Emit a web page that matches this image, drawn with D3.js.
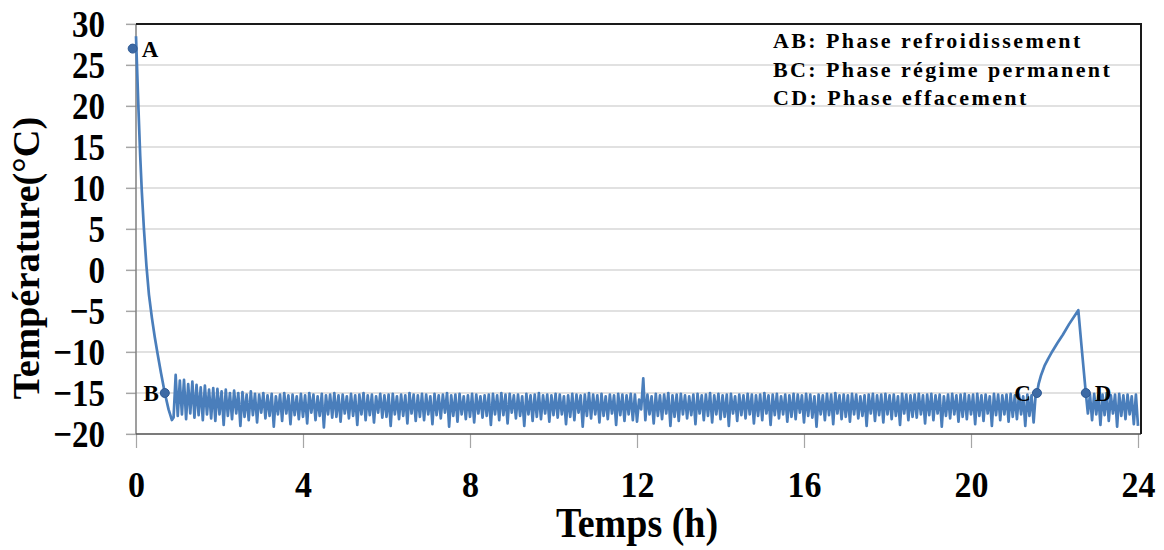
<!DOCTYPE html>
<html>
<head>
<meta charset="utf-8">
<script src="https://cdn.jsdelivr.net/npm/d3@7"></script>
<style>
body { margin: 0; background: #fff; }
svg text { font-family: "Liberation Serif", "Times New Roman", serif; font-weight: bold; fill: #000; }
.grid line { stroke: #c3c3c3; stroke-width: 1; }
.axis path { display: none; }
.axis line { stroke: #a6a6a6; stroke-width: 1.2; }
</style>
</head>
<body>
<svg id="chart" width="1164" height="550"></svg>
<script>
// ticks
var yTicks = [-20, -15, -10, -5, 0, 5, 10, 15, 20, 25, 30];
var xTicks = [0, 4, 8, 12, 16, 20, 24];

// cooling from A to B (h, °C)
var coolTime = [0, 0.03, 0.06, 0.1, 0.14, 0.19, 0.25, 0.31, 0.38, 0.45, 0.52, 0.6, 0.69, 0.78, 0.86];
var coolTemp = [28.5, 24, 19.5, 14, 9.5, 5, 0.5, -3, -5.8, -8.2, -10.3, -12.6, -15, -17, -18.3];

// regime permanent, logged every 0.05 h from 0.9 h (one row = one hour)
var regimeStart = 0.9, regimeStep = 0.05;
var regimeTemp = [
  -18.0,-12.8,-17.8,-13.5,-17.6,-13.4,-18.2,-13.9,-17.5,-13.6,-18.0,-14.0,-17.7,-14.3,-18.3,-14.1,-17.6,-14.6,-18.1,-14.4,
  -18.4,-14.5,-17.6,-14.8,-18.9,-14.6,-17.8,-15.0,-18.2,-14.7,-17.5,-15.0,-19.0,-14.9,-17.9,-15.2,-18.3,-14.8,-17.7,-15.1,
  -18.6,-15.2,-17.4,-15.0,-18.1,-15.3,-17.8,-15.1,-19.1,-15.4,-17.6,-15.2,-18.4,-15.0,-17.5,-15.3,-18.8,-15.2,-17.7,-15.4,
  -18.2,-15.1,-17.9,-15.3,-18.7,-15.0,-17.4,-15.2,-18.3,-15.4,-17.8,-15.1,-19.2,-15.3,-17.6,-15.2,-18.0,-15.0,-17.9,-15.3,
  -18.5,-15.2,-17.5,-15.4,-18.1,-15.1,-17.8,-15.3,-18.9,-15.2,-17.6,-15.0,-18.3,-15.3,-17.7,-15.2,-18.6,-15.4,-17.4,-15.1,
  -18.0,-15.3,-17.9,-15.2,-19.0,-15.1,-17.6,-15.4,-18.2,-15.2,-17.8,-15.3,-18.7,-15.0,-17.5,-15.2,-18.4,-15.3,-17.9,-15.1,
  -18.3,-15.2,-17.6,-15.4,-18.8,-15.1,-17.7,-15.3,-18.1,-15.2,-17.4,-15.0,-19.1,-15.3,-17.8,-15.2,-18.5,-15.1,-17.6,-15.4,
  -18.2,-15.3,-17.9,-15.1,-18.6,-15.2,-17.5,-15.4,-18.0,-15.3,-17.8,-15.2,-18.9,-15.1,-17.6,-15.3,-18.3,-15.0,-17.7,-15.2,
  -18.7,-15.1,-17.4,-15.3,-18.1,-15.2,-17.8,-15.4,-19.0,-15.1,-17.6,-15.3,-18.4,-15.2,-17.9,-15.0,-18.2,-15.3,-17.5,-15.2,
  -18.5,-15.3,-17.7,-15.1,-18.0,-15.2,-17.6,-15.4,-18.8,-15.3,-17.9,-15.1,-18.3,-15.2,-17.4,-15.3,-19.1,-15.2,-17.8,-15.0,
  -18.1,-15.2,-17.6,-15.3,-18.6,-15.1,-17.8,-15.4,-18.2,-15.2,-17.5,-15.3,-18.9,-15.1,-17.7,-15.2,-18.4,-15.3,-17.6,-15.1,
  -18.3,-15.2,-18.5,-15.8,-17.0,-13.2,-18.3,-15.2,-17.6,-15.4,-18.7,-15.1,-17.8,-15.3,-18.2,-15.2,-17.5,-15.0,-19.0,-15.3,
  -17.9,-15.2,-18.4,-15.1,-17.6,-15.3,-18.1,-15.4,-17.7,-15.2,-18.8,-15.1,-17.5,-15.3,-18.3,-15.2,-17.8,-15.0,-18.6,-15.3,
  -17.6,-15.1,-18.2,-15.3,-17.9,-15.2,-19.0,-15.1,-17.5,-15.4,-18.4,-15.2,-17.7,-15.3,-18.1,-15.1,-17.6,-15.2,-18.7,-15.3,
  -17.8,-15.2,-18.3,-15.0,-17.5,-15.3,-18.9,-15.2,-17.7,-15.1,-18.1,-15.4,-17.6,-15.2,-18.5,-15.3,-17.9,-15.1,-18.2,-15.2,
  -17.4,-15.3,-18.6,-15.1,-17.8,-15.2,-18.0,-15.4,-19.1,-15.2,-17.6,-15.3,-18.3,-15.1,-17.7,-15.2,-18.8,-15.0,-17.5,-15.3,
  -18.2,-15.2,-17.9,-15.3,-18.5,-15.1,-17.6,-15.2,-18.1,-15.4,-17.8,-15.3,-19.0,-15.2,-17.5,-15.1,-18.4,-15.3,-17.7,-15.2,
  -18.6,-15.1,-17.6,-15.3,-18.2,-15.2,-17.8,-15.4,-18.9,-15.1,-17.5,-15.2,-18.3,-15.3,-17.9,-15.2,-18.0,-15.1,-17.6,-15.3,
  -18.7,-15.2,-17.7,-15.1,-18.3,-15.3,-17.5,-15.2,-19.1,-15.4,-17.8,-15.2,-18.1,-15.1,-17.6,-15.3,-18.5,-15.2,-17.9,-15.1,
  -18.2,-15.3,-17.6,-15.2,-18.8,-15.1,-17.8,-15.3,-18.4,-15.2,-17.5,-15.4,-19.0,-15.1,-17.7,-15.2,-18.3,-15.3,-17.6,-15.2,
  -18.5,-15.1,-17.9,-15.3,-18.2,-15.2,-17.6,-15.4,-19.0,-15.2,-17.8,-15.3,-18.6,-15.1
];

// effacement C -> peak -> D
var defrostTime = [21.58, 21.62, 21.68, 21.76, 21.85, 21.95, 22.07, 22.2, 22.35, 22.57, 22.66, 22.75, 22.8];
var defrostTemp = [-15, -13.9, -12.8, -11.7, -10.8, -9.9, -8.9, -7.9, -6.6, -4.9, -10, -15, -17.5];

// back to regime after D, logged every 0.05 h from 22.85 h
var endStart = 22.85;
var endTemp = [-15.2,-18.3,-15.1,-17.6,-15.3,-18.9,-15.2,-17.7,-15.0,-18.4,-15.3,-17.5,
               -15.2,-19.1,-15.1,-17.8,-15.3,-18.2,-15.2,-17.6,-15.4,-18.8,-15.2,-19.0];

// phase points
var pointName = ["A", "B", "C", "D"];
var pointTime = [-0.08, 0.69, 21.58, 22.75];
var pointTemp = [27, -15, -15, -15];

var legendLines = ["AB: Phase refroidissement", "BC: Phase régime permanent", "CD: Phase effacement"];

// build series
var series = [];
coolTime.forEach(function(t, i) { series.push([t, coolTemp[i]]); });
regimeTemp.forEach(function(v, i) { series.push([regimeStart + i * regimeStep, v]); });
defrostTime.forEach(function(t, i) { series.push([t, defrostTemp[i]]); });
endTemp.forEach(function(v, i) { series.push([endStart + i * regimeStep, v]); });

var svg = d3.select("#chart");
var pLeft = 136, pRight = 1138, pTop = 24, pBottom = 434;

var x = d3.scaleLinear().domain([0, 24]).range([pLeft, pRight]);
var y = d3.scaleLinear().domain([-20, 30]).range([pBottom, pTop]);

// horizontal grid
svg.append("g").attr("class", "grid")
  .selectAll("line").data(yTicks).enter().append("line")
  .attr("x1", pLeft - 10).attr("x2", pRight + 3)
  .attr("y1", d => y(d)).attr("y2", d => y(d));

// y axis
var yAxis = svg.append("g").attr("class", "axis")
  .attr("transform", "translate(" + pLeft + ",0)")
  .call(d3.axisLeft(y).tickValues(yTicks).tickSize(10).tickSizeOuter(0));
yAxis.selectAll("text")
  .attr("x", -31).attr("dy", null).attr("y", 10.8)
  .attr("transform", "scale(1,1.15)")
  .style("font-size", "33px");

// x axis
var xAxis = svg.append("g").attr("class", "axis")
  .attr("transform", "translate(0," + pBottom + ")")
  .call(d3.axisBottom(x).tickValues(xTicks).tickSize(14).tickSizeOuter(0));
xAxis.selectAll("text")
  .attr("dy", null).attr("y", 58.3)
  .attr("transform", "scale(1,1.08)")
  .style("font-size", "34px");

// plot frame
svg.append("line").attr("x1", pLeft).attr("x2", pLeft).attr("y1", pTop).attr("y2", pBottom)
  .attr("stroke", "#7f7f7f").attr("stroke-width", 1.5);
svg.append("line").attr("x1", pLeft).attr("x2", pRight + 3).attr("y1", pBottom).attr("y2", pBottom)
  .attr("stroke", "#595959").attr("stroke-width", 1.5);
svg.append("polyline")
  .attr("points", [[pLeft, pTop], [pRight + 3, pTop], [pRight + 3, pBottom]].join(" "))
  .attr("fill", "none").attr("stroke", "#1a1a1a").attr("stroke-width", 2);

// temperature curve
var line = d3.line().x(d => x(d[0])).y(d => y(d[1]));
svg.append("path").datum(series)
  .attr("d", line)
  .attr("fill", "none")
  .attr("stroke", "#4a7ebb")
  .attr("stroke-width", 2.7)
  .attr("stroke-linejoin", "round");

// phase markers
svg.selectAll(".pt").data(pointName).enter().append("circle")
  .attr("class", "pt")
  .attr("cx", (d, i) => x(pointTime[i]))
  .attr("cy", (d, i) => y(pointTemp[i]))
  .attr("r", 4.5)
  .attr("fill", "#3d6aa5")
  .attr("stroke", "#2f5a94").attr("stroke-width", 1);

// marker labels: A, D to the right, B, C to the left
var labelRight = { A: true, B: false, C: false, D: true };
svg.selectAll(".ptlab").data(pointName).enter().append("text")
  .attr("class", "ptlab")
  .attr("x", (d, i) => x(pointTime[i]) + (labelRight[d] ? 9 : -6))
  .attr("y", (d, i) => y(pointTemp[i]) + 8)
  .attr("text-anchor", d => labelRight[d] ? "start" : "end")
  .style("font-size", "23px")
  .text(d => d);

// legend text
svg.selectAll(".leg").data(legendLines).enter().append("text")
  .attr("class", "leg")
  .attr("x", 773)
  .attr("y", (d, i) => 48 + i * 28.5)
  .style("font-size", "22px")
  .style("letter-spacing", "2.4px")
  .text(d => d);

// axis titles
svg.append("text")
  .attr("transform", "translate(637,537) scale(1,1.1)")
  .attr("text-anchor", "middle")
  .style("font-size", "38px")
  .text("Temps (h)");

svg.append("text")
  .attr("transform", "translate(39,258) rotate(-90)")
  .attr("text-anchor", "middle")
  .style("font-size", "38.5px")
  .text("Température(°C)");
</script>
</body>
</html>
